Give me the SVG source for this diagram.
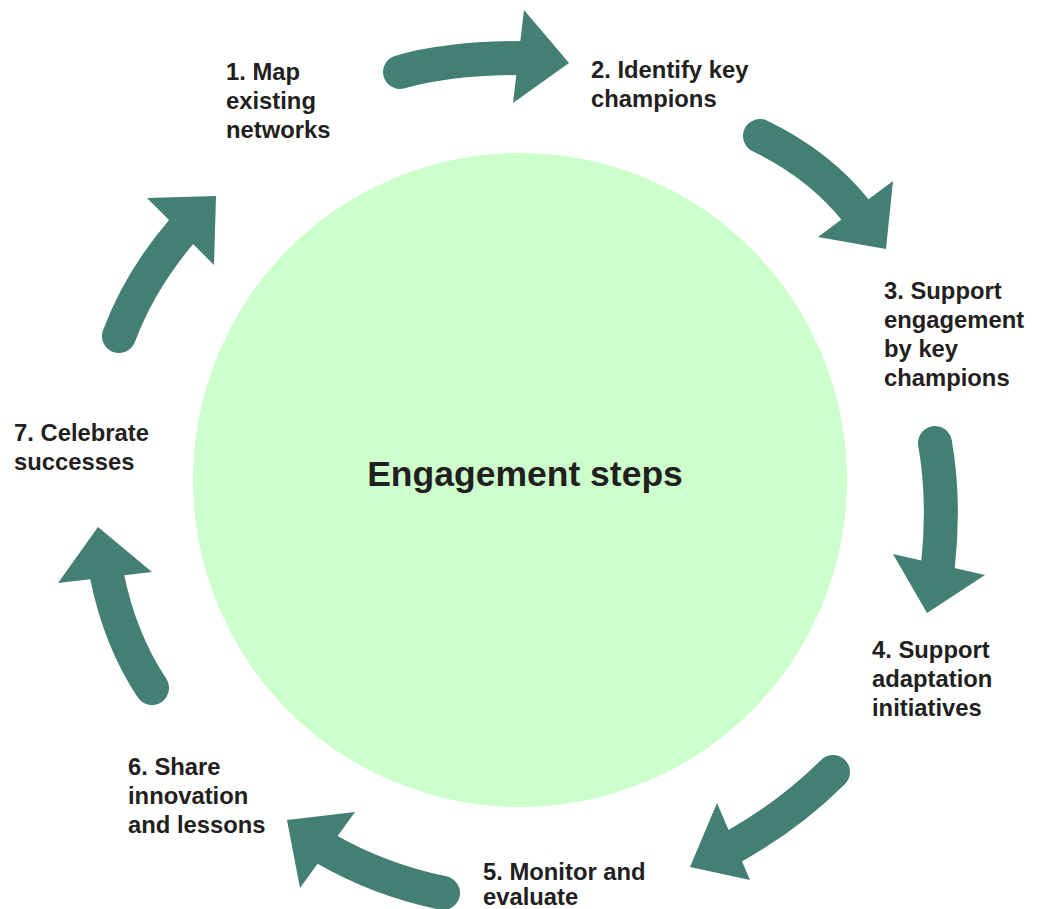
<svg xmlns="http://www.w3.org/2000/svg" width="1040" height="909" viewBox="0 0 1040 909">
<style>
.lbl{font-family:"Liberation Sans",Arial,sans-serif;font-weight:bold;font-size:23.8px;fill:#231F20}
.title{font-family:"Liberation Sans",Arial,sans-serif;font-weight:bold;font-size:35.5px;fill:#231F20}
.shaft{fill:none;stroke:#437F73;stroke-width:34;stroke-linecap:round}
.head{fill:#437F73}
</style>
<rect width="1040" height="909" fill="#FFFFFF"/>
<g id="center">
<circle cx="520" cy="480" r="327" fill="#CCFFCC"/>
<text class="title" x="525" y="486" text-anchor="middle">Engagement steps</text>
</g>
<g id="connectors">
<path class="shaft" d="M400 72 Q450 58 522 58"/>
<polygon class="head" points="524,10 569,63 513,103"/>
<path class="shaft" d="M760 136 Q820 165 857 212"/>
<polygon class="head" points="893,181 886,249 818,237"/>
<path class="shaft" d="M935 443 Q945 500 938 565"/>
<polygon class="head" points="893,554 985,575 927,613"/>
<path class="shaft" d="M833 772 Q790 815 733 847"/>
<polygon class="head" points="717,803 690,867 750,880"/>
<path class="shaft" d="M443 893 Q380 880 326 849"/>
<polygon class="head" points="355,812 287,820 300,888"/>
<path class="shaft" d="M152 688 Q120 640 107 576"/>
<polygon class="head" points="152,572 98,527 58,583"/>
<path class="shaft" d="M119 336 Q140 280 182 231"/>
<polygon class="head" points="147,198 216,196 214,265"/>
</g>
<g id="step1"><text class="lbl" x="226" y="80">1. Map</text><text class="lbl" x="226" y="109">existing</text><text class="lbl" x="226" y="138">networks</text></g>
<g id="step2"><text class="lbl" x="591" y="78">2. Identify key</text><text class="lbl" x="591" y="107">champions</text></g>
<g id="step3"><text class="lbl" x="884" y="299">3. Support</text><text class="lbl" x="884" y="328">engagement</text><text class="lbl" x="884" y="357">by key</text><text class="lbl" x="884" y="386">champions</text></g>
<g id="step4"><text class="lbl" x="872" y="658">4. Support</text><text class="lbl" x="872" y="687">adaptation</text><text class="lbl" x="872" y="716">initiatives</text></g>
<g id="step5"><text class="lbl" x="483" y="880">5. Monitor and</text><text class="lbl" x="483" y="905">evaluate</text></g>
<g id="step6"><text class="lbl" x="128" y="775">6. Share</text><text class="lbl" x="128" y="804">innovation</text><text class="lbl" x="128" y="833">and lessons</text></g>
<g id="step7"><text class="lbl" x="14" y="441">7. Celebrate</text><text class="lbl" x="14" y="470">successes</text></g>
</svg>
